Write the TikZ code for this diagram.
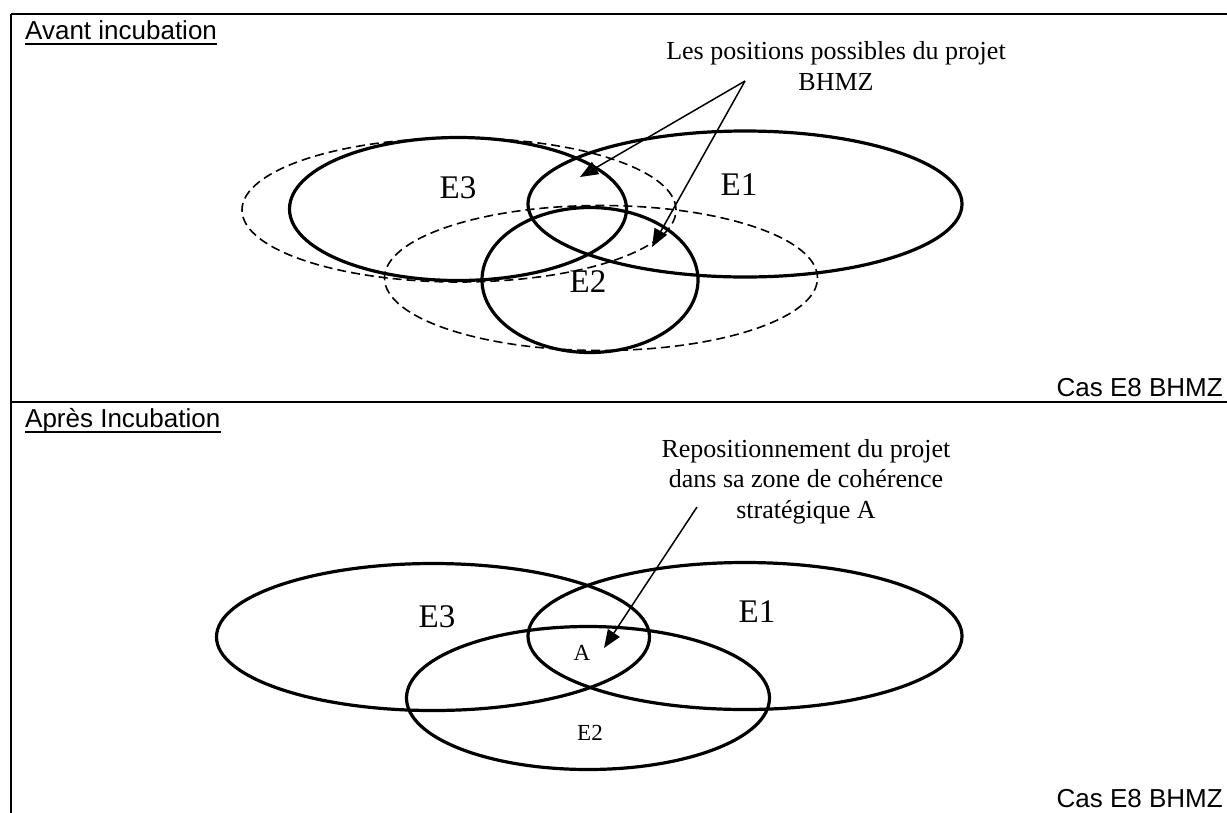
\documentclass[tikz,border=0pt]{standalone}
\usepackage{fontspec}
\setmainfont{Liberation Serif}
\setsansfont{Liberation Sans}
\usetikzlibrary{arrows.meta, positioning, shapes.geometric}

\begin{document}
\begin{tikzpicture}[
    x=1pt, y=-1pt,
    set/.style={draw, ellipse, line width=3.2pt, inner sep=0pt},
    zone/.style={draw, ellipse, line width=1.6pt, dash pattern=on 9pt off 5pt, inner sep=0pt},
    setlabel/.style={inner sep=0pt, font=\fontsize{33}{36}\selectfont},
    small/.style={inner sep=0pt, font=\fontsize{23}{26}\selectfont},
    note/.style={align=center, inner sep=0pt, font=\fontsize{26}{30.5}\selectfont},
    title/.style={inner sep=0pt, anchor=base west, font=\sffamily\fontsize{26}{30}\selectfont},
    cas/.style={inner sep=0pt, anchor=base east, font=\sffamily\fontsize{26}{30}\selectfont},
    frame/.style={line width=2.6pt},
    arrow/.style={-{Triangle[length=18pt, width=14pt]}, line width=1.5pt}
]
    \useasboundingbox (0,0) rectangle (1227,812);

    \draw[frame] (11,14) -- (1240,14);
    \draw[frame] (11,14) -- (11,830);
    \draw[frame] (11,402) -- (1240,402);

    \node[title] (avant) at (25,39) {Avant incubation};
    \node[title] (apres) at (25,427) {Après Incubation};
    \draw[line width=2pt] ([yshift=-4.5pt]avant.base west) -- ([yshift=-4.5pt]avant.base east);
    \draw[line width=2pt] ([yshift=-5pt]apres.base west) -- ([yshift=-5pt]apres.base east);
    \node[cas] (cas1) at (1223,396) {Cas E8 BHMZ};
    \node[cas] (cas2) at (1223,807) {Cas E8 BHMZ};

    \node[zone, minimum width=434pt, minimum height=144pt] (zoneA) at (459,210) {};
    \node[zone, minimum width=433pt, minimum height=145pt] (zoneB) at (601,278) {};
    \node[set, minimum width=337pt, minimum height=143pt] (e3a) at (458,209) {};
    \node[set, minimum width=434pt, minimum height=146pt] (e1a) at (745,204) {};
    \node[set, minimum width=216pt, minimum height=145pt] (e2a) at (590,280) {};
    \node[setlabel] (l3a) at (458,188) {E3};
    \node[setlabel] (l1a) at (739,185) {E1};
    \node[setlabel] (l2a) at (588,282) {E2};

    \node[note, anchor=base] (possible) at (836,90) {Les positions possibles du projet\\BHMZ};
    \coordinate (src) at (745,81);
    \coordinate (tipA) at (580,177);
    \coordinate (tipB) at (652,247);
    \draw[arrow] (src) -- (tipA);
    \draw[arrow] (src) -- (tipB);

    \node[set, minimum width=433pt, minimum height=147pt] (e3b) at (433,637) {};
    \node[set, minimum width=434pt, minimum height=147pt] (e1b) at (745,636) {};
    \node[set, minimum width=363pt, minimum height=143pt] (e2b) at (588,698) {};
    \node[setlabel] (l3b) at (437,617) {E3};
    \node[setlabel] (l1b) at (757,612) {E1};
    \node[small] (la) at (582,653) {A};
    \node[small] (l2b) at (590,733) {E2};

    \node[note, anchor=base] (repos) at (806,518) {Repositionnement du projet\\dans sa zone de cohérence\\stratégique A};
    \coordinate (src2) at (697,507);
    \coordinate (tipC) at (604,648);
    \draw[arrow] (src2) -- (tipC);
\end{tikzpicture}
\end{document}
